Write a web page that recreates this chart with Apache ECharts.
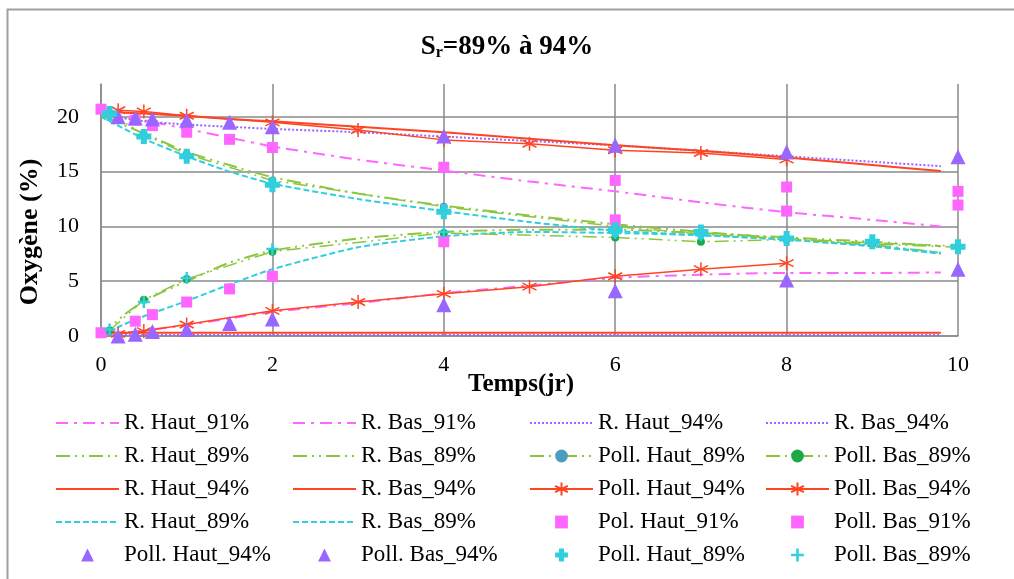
<!DOCTYPE html>
<html>
<head>
<meta charset="utf-8">
<script src="https://cdn.jsdelivr.net/npm/echarts@6/dist/echarts.min.js"></script>
<style>html,body{margin:0;padding:0;background:#fff;}#c{width:1014px;height:579px;}</style>
</head>
<body>
<div id="c"></div>
<script>
// ---- data ----
const yTicks = [0, 5, 10, 15, 20];
const xTicks = [0, 2, 4, 6, 8, 10];
// model curves (R.)
const tModel = [0, 0.25, 0.5, 1, 1.5, 2, 3, 4, 5, 6, 7, 8, 9, 9.8];
const rHaut91 = [20.5, 20.1, 19.7, 18.9, 18.1, 17.3, 16.1, 15.1, 14.1, 13.2, 12.2, 11.3, 10.6, 10.0];
const rBas91 = [0.1, 0.3, 0.5, 1.0, 1.6, 2.2, 3.0, 3.9, 4.6, 5.3, 5.6, 5.75, 5.75, 5.8];
const rHaut94p = [20.2, 19.9, 19.6, 19.3, 19.1, 18.9, 18.6, 18.2, 17.8, 17.4, 16.9, 16.4, 15.9, 15.5];
const rBas94p = [0.1, 0.1, 0.1, 0.1, 0.1, 0.1, 0.1, 0.1, 0.1, 0.1, 0.1, 0.1, 0.1, 0.1];
const rHaut89g = [20.2, 19.3, 18.5, 16.8, 15.6, 14.5, 13.0, 11.9, 11.0, 10.2, 9.5, 8.9, 8.3, 7.6];
const rBas89g = [0.0, 1.8, 3.2, 5.0, 6.7, 7.8, 8.9, 9.5, 9.7, 9.7, 9.4, 9.0, 8.6, 8.2];
const rHaut94r = [20.6, 20.4, 20.3, 20.1, 19.8, 19.6, 19.1, 18.6, 18.0, 17.4, 16.9, 16.3, 15.6, 15.05];
const rBas94r = [0.3, 0.3, 0.3, 0.3, 0.3, 0.3, 0.3, 0.3, 0.3, 0.3, 0.3, 0.3, 0.3, 0.3];
const rHaut89c = [20.0, 19.0, 18.0, 16.4, 15.0, 13.9, 12.5, 11.4, 10.4, 9.6, 9.2, 8.8, 8.2, 7.5];
const rBas89c = [0.0, 1.0, 1.8, 3.2, 4.7, 6.1, 8.1, 9.1, 9.5, 9.4, 9.2, 8.8, 8.2, 7.6];
// measured points (Poll.)
const tAst = [0.2, 0.5, 1, 2, 3, 4, 5, 6, 7, 8];
const pHaut94r = [20.6, 20.5, 20.1, 19.5, 18.8, 17.9, 17.55, 16.95, 16.7, 16.1];
const pBas94r = [0.2, 0.45, 1.05, 2.3, 3.1, 3.85, 4.5, 5.45, 6.1, 6.65];
const tTri = [0.2, 0.4, 0.6, 1, 1.5, 2, 4, 6, 8, 10];
const pHaut94t = [20.0, 19.9, 19.8, 19.7, 19.5, 19.1, 18.25, 17.4, 16.8, 16.35];
const pBas94t = [0.0, 0.15, 0.4, 0.6, 1.15, 1.55, 2.86, 4.14, 5.1, 6.1];
const tSq = [0, 0.4, 0.6, 1, 1.5, 2, 4, 6, 8, 10];
const pHaut91 = [20.7, 19.7, 19.2, 18.6, 17.95, 17.2, 15.4, 14.2, 13.6, 13.2];
const pBas91 = [0.3, 1.35, 1.95, 3.1, 4.3, 5.45, 8.6, 10.6, 11.4, 11.95];
const tPlus = [0.1, 0.5, 1, 2, 4, 6, 7, 8, 9, 10];
const pHaut89c = [20.3, 18.2, 16.4, 13.8, 11.35, 9.7, 9.5, 8.9, 8.6, 8.15];
const pBas89c = [0.6, 3.1, 5.3, 7.95, 9.5, 9.4, 9.2, 8.8, 8.5, 8.1];
const pHaut89g = [20.3, 18.4, 16.6, 14.2, 11.8, 10.0, 9.3, 8.9, 8.5, 8.2];
const pBas89g = [0.5, 3.3, 5.2, 7.7, 9.4, 9.0, 8.6, 8.8, 8.4, 8.1];

// ---- styles ----
const MAG = '#FF66FF', PUR = '#9966FF', GRN = '#8CC63F', RED = '#FF4422', CYA = '#30CFDD';
const FONT = '"Liberation Serif", "Times New Roman", serif';
const DASHDOT = [12, 6, 3, 6];
const DASHDOTDOT = [14, 5, 2, 5, 2, 5];
const DASH = [6, 3];
const DOT = [2, 2];
const zip = (ts, vs) => ts.map((t, i) => [t, vs[i]]);
const ASTER = 'path://M5,0L5,10M0.67,2.5L9.33,7.5M0.67,7.5L9.33,2.5';
const PLUS_THICK = 'path://M3,0H7V3H10V7H7V10H3V7H0V3H3Z';
const PLUS_THIN = 'path://M4,0H6V4H10V6H6V10H4V6H0V4H4Z';

function rLine(name, ts, vs, color, type) {
  return { name, type: 'line', data: zip(ts, vs), symbol: 'circle', showSymbol: false, symbolSize: 1, smooth: 0.2,
    lineStyle: { color, width: 2, type }, itemStyle: { color, opacity: 0, borderWidth: 0 }, z: 2 };
}
function pLine(name, ts, vs, color, type, symbol, symColor, size, stroke) {
  return { name, type: 'line', data: zip(ts, vs), symbol, symbolSize: size, showSymbol: true,
    lineStyle: { color, width: 1.5, type },
    itemStyle: stroke ? { color: symColor, borderColor: symColor, borderWidth: 1.5 } : { color: symColor, borderWidth: 0 },
    z: 3 };
}
function pScatter(name, ts, vs, color, symbol, size) {
  return { name, type: 'line', data: zip(ts, vs), symbol, symbolSize: size, showSymbol: true,
    lineStyle: { width: 0, opacity: 0, color }, itemStyle: { color, opacity: 1, borderWidth: 0 }, z: 4 };
}

const series = [
  rLine('R. Haut_91%', tModel, rHaut91, MAG, DASHDOT),
  rLine('R. Bas_91%', tModel, rBas91, MAG, DASHDOT),
  rLine('R. Haut_94%', tModel, rHaut94p, PUR, DOT),
  rLine('R. Bas_94%', tModel, rBas94p, PUR, DOT),
  rLine('R. Haut_89%', tModel, rHaut89g, GRN, DASHDOTDOT),
  rLine('R. Bas_89%', tModel, rBas89g, GRN, DASHDOTDOT),
  pLine('Poll. Haut_89%', tPlus, pHaut89g, GRN, DASHDOTDOT, 'circle', '#4A9CC0', 8, false),
  pLine('Poll. Bas_89%', tPlus, pBas89g, GRN, DASHDOTDOT, 'circle', '#1FA84A', 8, false),
  rLine('R. Haut_94% ', tModel, rHaut94r, RED, 'solid'),
  rLine('R. Bas_94% ', tModel, rBas94r, RED, 'solid'),
  pLine('Poll. Haut_94%', tAst, pHaut94r, RED, 'solid', ASTER, RED, 14, true),
  pLine('Poll. Bas_94%', tAst, pBas94r, RED, 'solid', ASTER, RED, 14, true),
  rLine('R. Haut_89% ', tModel, rHaut89c, CYA, DASH),
  rLine('R. Bas_89% ', tModel, rBas89c, CYA, DASH),
  pScatter('Pol. Haut_91%', tSq, pHaut91, MAG, 'rect', 11),
  pScatter('Poll. Bas_91%', tSq, pBas91, MAG, 'rect', 11),
  pScatter('Poll. Haut_94% ', tTri, pHaut94t, PUR, 'triangle', 15),
  pScatter('Poll. Bas_94% ', tTri, pBas94t, PUR, 'triangle', 15),
  pScatter('Poll. Haut_89% ', tPlus, pHaut89c, CYA, PLUS_THICK, 15),
  pScatter('Poll. Bas_89% ', tPlus, pBas89c, CYA, PLUS_THIN, 12)
];

const names = series.map(s => s.name);
const colLefts = [50, 287, 524, 760];
const legends = colLefts.map((left, c) => ({
  orient: 'vertical', left, top: 406, itemWidth: 63, itemHeight: 16, itemGap: 9,
  data: names.filter((n, i) => i % 4 === c),
  formatter: n => n.trim(),
  textStyle: { fontFamily: FONT, fontSize: 23, color: '#000', lineHeight: 24 },
  selectedMode: false
}));

const chart = echarts.init(document.getElementById('c'), null, { renderer: 'canvas' });
chart.setOption({
  animation: false,
  backgroundColor: '#fff',
  title: {
    text: '{a|S}{b|r}{a|=89% à 94%}', left: 'center', top: 28,
    textStyle: { rich: {
      a: { fontFamily: FONT, fontWeight: 'bold', fontSize: 27, color: '#000' },
      b: { fontFamily: FONT, fontWeight: 'bold', fontSize: 16, color: '#000', padding: [12, 0, 0, 0] }
    } }
  },
  grid: { left: 101, right: 56, top: 84, bottom: 243 },
  xAxis: {
    type: 'value', min: xTicks[0], max: xTicks[xTicks.length - 1], interval: xTicks[1] - xTicks[0],
    axisLine: { lineStyle: { color: '#8a8a8a', width: 1.5 } },
    axisTick: { show: false },
    axisLabel: { fontFamily: FONT, fontSize: 22, color: '#000', margin: 18 },
    splitLine: { show: true, lineStyle: { color: '#8a8a8a', width: 1.5 } }
  },
  yAxis: {
    type: 'value', min: yTicks[0], max: 23, interval: yTicks[1] - yTicks[0],
    axisLine: { show: true, lineStyle: { color: '#8a8a8a', width: 1.5 } },
    axisTick: { show: false },
    axisLabel: { fontFamily: FONT, fontSize: 22, color: '#000', margin: 22, showMaxLabel: false,
      formatter: v => (yTicks.indexOf(v) >= 0 ? String(v) : '') },
    splitLine: { show: true, showMaxLine: false, lineStyle: { color: '#8a8a8a', width: 1.5 } }
  },
  legend: legends,
  graphic: [
    { type: 'rect', shape: { x: 7.5, y: 9.5, width: 1100, height: 700 }, style: { fill: 'none', stroke: '#a0a0a0', lineWidth: 2 }, silent: true, z: -1 },
    { type: 'text', x: 30, y: 232, rotation: Math.PI / 2,
      style: { text: 'Oxygène (%)', font: 'bold 26px ' + FONT, fill: '#000', align: 'center', verticalAlign: 'middle' } },
    { type: 'text', x: 521, y: 385,
      style: { text: 'Temps(jr)', font: 'bold 25px ' + FONT, fill: '#000', align: 'center', verticalAlign: 'middle' } }
  ],
  series
});
</script>
</body>
</html>
